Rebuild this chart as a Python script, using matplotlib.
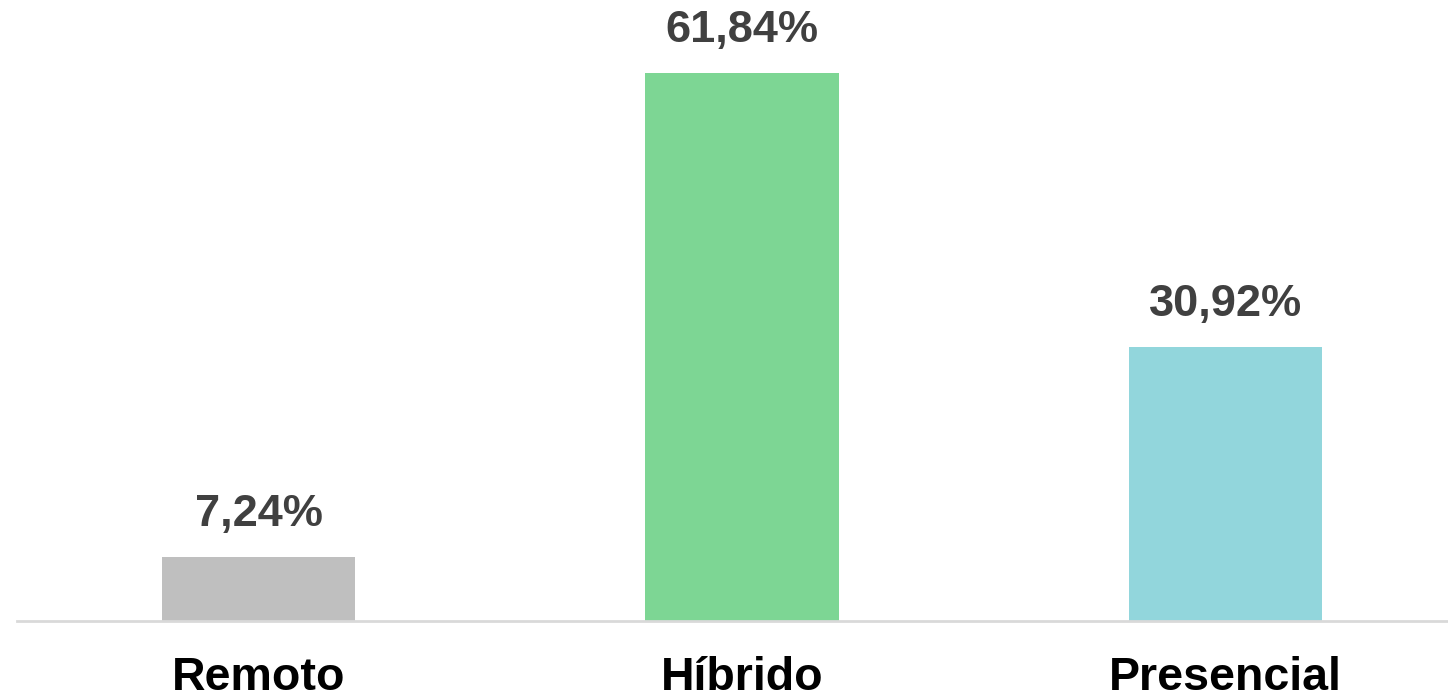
import matplotlib
matplotlib.use("Agg")
import matplotlib.pyplot as plt

categories = ["Remoto", "Híbrido", "Presencial"]
values = [7.24, 61.84, 30.92]
labels = ["7,24%", "61,84%", "30,92%"]
colors = ["#BFBFBF", "#7DD694", "#92D6DC"]

plt.rcParams['font.family'] = ['Liberation Sans', 'DejaVu Sans']

W, H = 1448, 699
fig = plt.figure(figsize=(W/100, H/100), dpi=100)
base = 621
ax = fig.add_axes([17/W, 1 - base/H, 1450/W, base/H])
ax.set_xlim(-0.5, 2.5)
ax.set_ylim(0, base/8.86)

x = list(range(len(categories)))
bars = ax.bar(x, values, width=0.4, color=colors)
for xi, v, lab in zip(x, values, labels):
    ax.annotate(lab, (xi, v), xytext=(0, 16), textcoords='offset points',
                ha='center', va='bottom', fontsize=32.5, fontweight='bold', color='#404040')

ax.set_xticks(x)
ax.set_xticklabels(categories, fontsize=33.5, fontweight='bold', color='black')
ax.tick_params(axis='x', length=0, pad=25)
ax.set_yticks([])
for s in ['top', 'right', 'left']:
    ax.spines[s].set_visible(False)
ax.spines['bottom'].set_color('#D9D9D9')
ax.spines['bottom'].set_linewidth(2)

fig.savefig("out.png", dpi=100)
